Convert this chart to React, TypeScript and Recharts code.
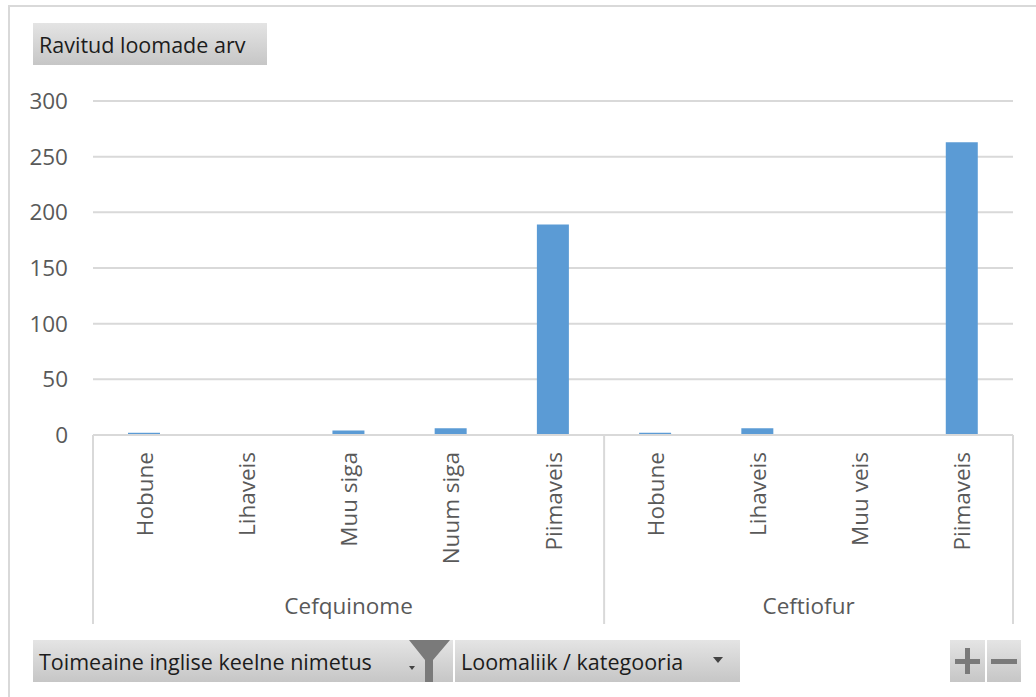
import React from 'react';
import { BarChart, Bar, XAxis, YAxis, CartesianGrid } from 'recharts';

// Pivot chart: number of treated animals per active substance and animal category
const groups = ['Cefquinome', 'Cefquinome', 'Cefquinome', 'Cefquinome', 'Cefquinome', 'Ceftiofur', 'Ceftiofur', 'Ceftiofur', 'Ceftiofur'];
const animals = ['Hobune', 'Lihaveis', 'Muu siga', 'Nuum siga', 'Piimaveis', 'Hobune', 'Lihaveis', 'Muu veis', 'Piimaveis'];
const treated = [2, 0, 4, 6, 189, 2, 6, 0, 263];
const yTicks = [0, 50, 100, 150, 200, 250, 300];

const data = animals.map((animal, i) => ({
  id: `${groups[i]}|${animal}`,
  animal,
  group: groups[i],
  value: treated[i],
}));

const CHART_W = 1036;
const CHART_H = 697;
const MARGIN = { top: 101, right: 23, left: 0, bottom: 73 };
const Y_AXIS_W = 93;
const X_AXIS_H = 189;
const STEP = (CHART_W - MARGIN.left - MARGIN.right - Y_AXIS_W) / data.length;

const FONT = '"Open Sans", "Noto Sans", sans-serif';
const TEXT = '#595959';
const LINE = '#d9d9d9';
const AXIS_FS = 22.5;

// two-level category axis: rotated animal names, then substance names with dividers
const CategoryTick = (props: any) => {
  const { x, y, index } = props;
  const d = data[index];
  if (!d) return null;
  const first = index === 0 || data[index - 1].group !== d.group;
  const last = index === data.length - 1;
  const groupSize = data.filter((r) => r.group === d.group).length;
  return (
    <g>
      <text
        transform={`translate(${x},${y + 17}) rotate(-90)`}
        textAnchor="end"
        dominantBaseline="central"
        fill={TEXT}
        fontSize={AXIS_FS}
        fontFamily={FONT}
      >
        {d.animal}
      </text>
      {first && (
        <>
          <line x1={x - STEP / 2} x2={x - STEP / 2} y1={y} y2={y + 189} stroke={LINE} strokeWidth={2} />
          <text
            x={x + ((groupSize - 1) * STEP) / 2}
            y={y + 170}
            textAnchor="middle"
            dominantBaseline="central"
            fill={TEXT}
            fontSize={AXIS_FS}
            fontFamily={FONT}
          >
            {d.group}
          </text>
        </>
      )}
      {last && <line x1={x + STEP / 2} x2={x + STEP / 2} y1={y} y2={y + 189} stroke={LINE} strokeWidth={2} />}
    </g>
  );
};

const btn: React.CSSProperties = {
  position: 'absolute',
  background: 'linear-gradient(#e4e4e4, #c6c6c6)',
  boxSizing: 'border-box',
  display: 'flex',
  alignItems: 'center',
  fontFamily: FONT,
  fontSize: 21.5,
  color: '#1c1c1c',
  whiteSpace: 'nowrap',
};

export default function App() {
  return (
    <div style={{ position: 'absolute', left: 0, top: 0, width: CHART_W, height: CHART_H, background: '#fff', overflow: 'hidden' }}>
      <div style={{ position: 'absolute', left: 8, top: 5, right: -10, bottom: -10, borderTop: `2px solid ${LINE}`, borderLeft: `2px solid ${LINE}` }} />
      <BarChart width={CHART_W} height={CHART_H} data={data} margin={MARGIN}>
        <CartesianGrid vertical={false} stroke={LINE} strokeWidth={2} />
        <XAxis
          dataKey="id"
          interval={0}
          height={X_AXIS_H}
          tickLine={false}
          tickSize={0}
          tickMargin={0}
          axisLine={{ stroke: LINE, strokeWidth: 2 }}
          tick={<CategoryTick />}
        />
        <YAxis
          width={Y_AXIS_W}
          domain={[0, 300]}
          ticks={yTicks}
          axisLine={false}
          tickLine={false}
          tickSize={0}
          tickMargin={25}
          tick={{ fill: TEXT, fontSize: AXIS_FS, fontFamily: FONT }}
        />
        <Bar dataKey="value" fill="#5b9bd5" barSize={32} isAnimationActive={false} />
      </BarChart>

      <div style={{ ...btn, left: 33, top: 23, width: 234, height: 42, paddingLeft: 6 }}>Ravitud loomade arv</div>

      <div style={{ ...btn, left: 33, top: 640, width: 420, height: 42, paddingLeft: 6 }}>
        Toimeaine inglise keelne nimetus
        <svg style={{ position: 'absolute', left: 374, top: 0 }} width={46} height={42}>
          <polygon points="2,26 8,26 5,30" fill="#444" />
          <polygon points="2,0 43,0 26,20 26,42 18,42 18,20" fill="#7a7a7a" />
        </svg>
      </div>
      <div style={{ ...btn, left: 455, top: 640, width: 285, height: 42, paddingLeft: 6 }}>
        Loomaliik / kategooria
        <svg style={{ position: 'absolute', left: 258, top: 17 }} width={12} height={8}>
          <polygon points="0,0 10,0 5,6" fill="#444" />
        </svg>
      </div>

      <div style={{ ...btn, left: 950, top: 640, width: 35, height: 42 }}>
        <svg width={35} height={42}>
          <rect x={5} y={19} width={25} height={5} fill="#7a7a7a" />
          <rect x={15} y={8} width={5} height={26} fill="#7a7a7a" />
        </svg>
      </div>
      <div style={{ ...btn, left: 987, top: 640, width: 34, height: 42 }}>
        <svg width={34} height={42}>
          <rect x={4} y={19} width={26} height={5} fill="#7a7a7a" />
        </svg>
      </div>
    </div>
  );
}
